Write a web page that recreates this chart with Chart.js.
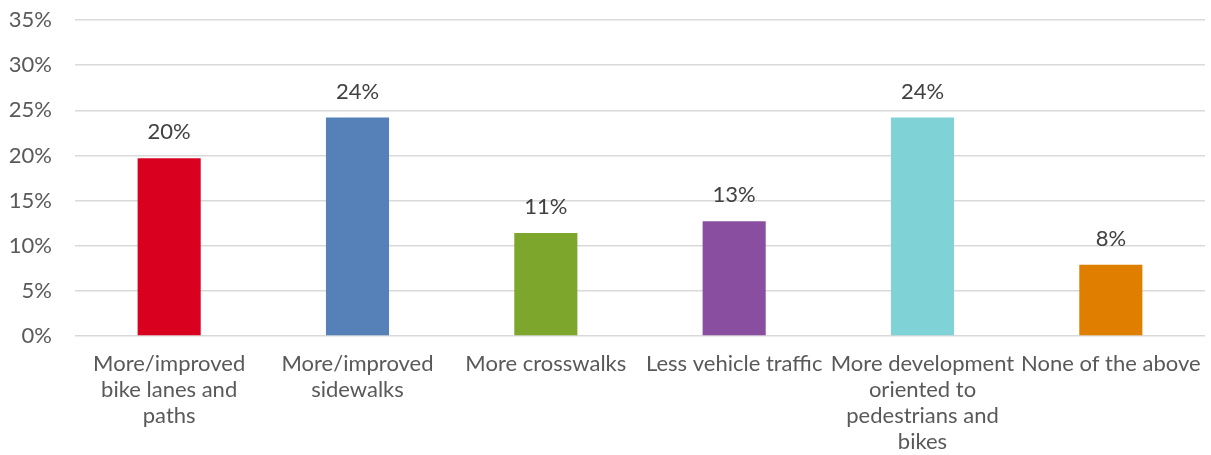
<!DOCTYPE html>
<html>
<head>
<meta charset="utf-8">
<script src="https://cdn.jsdelivr.net/npm/chart.js@4"></script>
<style>
  body { margin: 0; background: #fff; }
  #wrap { width: 1211px; height: 455px; }
</style>
</head>
<body>
<div id="wrap"><canvas id="chart" width="1211" height="455"></canvas></div>
<script>
// DATA
const categories = [
  ["More/improved", "bike lanes and", "paths"],
  ["More/improved", "sidewalks"],
  "More crosswalks",
  "Less vehicle traffic",
  ["More development", "oriented to", "pedestrians and", "bikes"],
  "None of the above"
];
const values = [19.7, 24.2, 11.4, 12.7, 24.2, 7.9];
const bar_colors = ["#D9001F", "#5580B8", "#7DA72C", "#8A4EA0", "#7FD2D6", "#E07E00"];
const y_ticks = [0, 5, 10, 15, 20, 25, 30, 35];

const text_color = "#595959";
const font_family = "Lato, 'Noto Sans', sans-serif";

// VALUE LABELS ABOVE BARS
const valueLabels = {
  id: "valueLabels",
  afterDatasetsDraw(chart) {
    const ctx = chart.ctx;
    const meta = chart.getDatasetMeta(0);
    ctx.save();
    ctx.font = "22px " + font_family;
    ctx.fillStyle = "#404040";
    ctx.textAlign = "center";
    ctx.textBaseline = "middle";
    meta.data.forEach((bar, i) => {
      ctx.fillText(Math.round(values[i]) + "%", bar.x, bar.y - 26);
    });
    ctx.restore();
  }
};

const ctx = document.getElementById("chart").getContext("2d");
new Chart(ctx, {
  type: "bar",
  data: {
    labels: categories,
    datasets: [{
      data: values,
      backgroundColor: bar_colors,
      borderWidth: 0,
      categoryPercentage: 1,
      barPercentage: 0.335
    }]
  },
  options: {
    responsive: false,
    animation: false,
    layout: { padding: { top: 20, right: 6, left: 0, bottom: 0 } },
    plugins: {
      legend: { display: false },
      tooltip: { enabled: false }
    },
    scales: {
      x: {
        grid: { display: false },
        border: { display: false },
        afterFit(axis) {
          axis.height = 119;
          axis.paddingLeft = 0;
          axis.paddingRight = 0;
        },
        ticks: {
          color: text_color,
          font: { family: font_family, size: 22, lineHeight: 1.18 },
          padding: 7,
          maxRotation: 0,
          autoSkip: false
        }
      },
      y: {
        min: 0,
        max: 35,
        afterBuildTicks(axis) {
          axis.ticks = y_ticks.map(v => ({ value: v }));
        },
        afterFit(axis) {
          axis.width = 75;
          axis.paddingTop = 0;
          axis.paddingBottom = 0;
        },
        grid: { color: "#D9D9D9", lineWidth: 1.5, drawTicks: false },
        border: { display: false },
        ticks: {
          color: text_color,
          font: { family: font_family, size: 22 },
          padding: 23,
          callback: v => v + "%"
        }
      }
    }
  },
  plugins: [valueLabels]
});
</script>
</body>
</html>
